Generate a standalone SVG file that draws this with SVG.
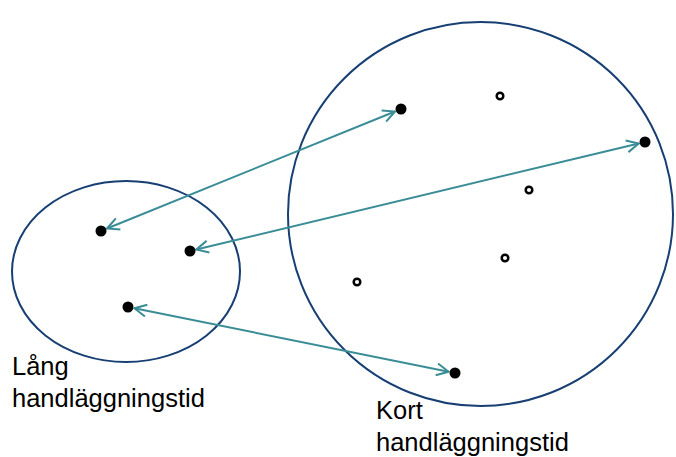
<svg xmlns="http://www.w3.org/2000/svg" width="676" height="457" viewBox="0 0 676 457">
<style>
.region{fill:none;stroke:#173F73;stroke-width:2}
.dot{fill:#000}
.hollow{fill:#fff;stroke:#000;stroke-width:2.5}
.conn{stroke:#3A8D96;stroke-width:2;fill:none;marker-start:url(#ah);marker-end:url(#ah)}
.lbl{font-family:"Liberation Sans",Arial,sans-serif;font-size:25.5px;fill:#000}
</style>
<defs>
<marker id="ah" viewBox="0 0 14 14" refX="13" refY="7" markerWidth="14" markerHeight="14" markerUnits="userSpaceOnUse" orient="auto-start-reverse">
<path d="M1,1 L13,7 L1,13" fill="none" stroke="#3A8D96" stroke-width="2"/>
</marker>
</defs>
<g id="long-region">
<ellipse class="region" cx="126" cy="271.5" rx="114" ry="90.5"/>
<text class="lbl" x="12" y="375">Lång</text>
<text class="lbl" x="12" y="407">handläggningstid</text>
</g>
<g id="short-region">
<ellipse class="region" cx="480.5" cy="214" rx="192.5" ry="192"/>
<text class="lbl" x="376" y="419">Kort</text>
<text class="lbl" x="376" y="451">handläggningstid</text>
</g>
<g id="connectors">
<line class="conn" x1="107" y1="228.5" x2="395" y2="111.5"/>
<line class="conn" x1="196.3" y1="249.5" x2="638.7" y2="143.5"/>
<line class="conn" x1="134.4" y1="308.3" x2="448.6" y2="371.7"/>
</g>
<g id="a1"><circle class="dot" cx="101" cy="231" r="5.5"/></g>
<g id="a2"><circle class="dot" cx="190" cy="251" r="5.5"/></g>
<g id="a3"><circle class="dot" cx="128" cy="307" r="5.5"/></g>
<g id="b1"><circle class="dot" cx="401" cy="109" r="5.5"/></g>
<g id="b2"><circle class="dot" cx="645" cy="142" r="5.5"/></g>
<g id="b3"><circle class="dot" cx="455" cy="373" r="5.5"/></g>
<g id="c1"><circle class="hollow" cx="500" cy="96" r="3.3"/></g>
<g id="c2"><circle class="hollow" cx="529" cy="190" r="3.3"/></g>
<g id="c3"><circle class="hollow" cx="505" cy="258" r="3.3"/></g>
<g id="c4"><circle class="hollow" cx="357" cy="282" r="3.3"/></g>
</svg>
